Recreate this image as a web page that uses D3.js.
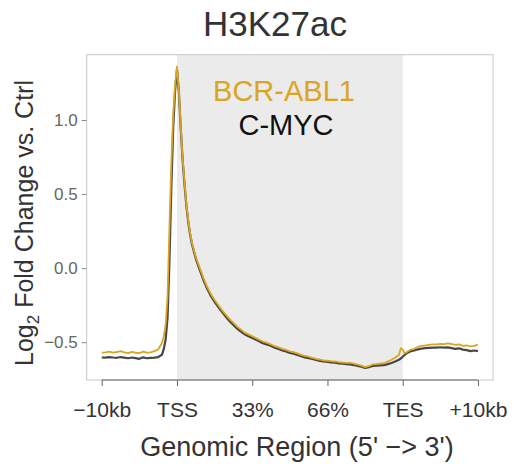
<!DOCTYPE html>
<html>
<head>
<meta charset="utf-8">
<script src="https://cdn.jsdelivr.net/npm/d3@7"></script>
<style>
  body { margin: 0; background: #fff; }
  text { font-family: "Liberation Sans", Arial, sans-serif; }
</style>
</head>
<body>
<script>
const w = 514;
const h = 464;
const margin = { top: 54.7, right: 21, bottom: 84, left: 86.7 };

// bin positions: 0 = -10kb, 1 = TSS, 4 = TES, 5 = +10kb
const binPos = [0, 0.05, 0.1, 0.15, 0.2, 0.25, 0.3, 0.35, 0.4, 0.45, 0.5, 0.55, 0.6, 0.65, 0.7, 0.75, 0.8,
  0.825, 0.85, 0.875, 0.9, 0.925, 0.95, 0.975, 1, 1.025, 1.05, 1.075, 1.1, 1.125, 1.15, 1.175, 1.2,
  1.25, 1.3, 1.35, 1.4, 1.45, 1.5, 1.55, 1.6, 1.65, 1.7, 1.75, 1.8, 1.85, 1.9, 1.95, 2, 2.05, 2.1, 2.15,
  2.2, 2.25, 2.3, 2.35, 2.4, 2.45, 2.5, 2.55, 2.6, 2.65, 2.7, 2.75, 2.8, 2.85, 2.9, 2.95, 3, 3.05, 3.1,
  3.15, 3.2, 3.25, 3.3, 3.35, 3.4, 3.45, 3.5, 3.55, 3.6, 3.65, 3.7, 3.75, 3.8, 3.85, 3.9, 3.95,
  3.975, 4, 4.025, 4.05, 4.1, 4.15, 4.2, 4.25, 4.3, 4.35, 4.4, 4.45, 4.5, 4.55, 4.6, 4.65, 4.7, 4.75,
  4.8, 4.85, 4.9, 4.95, 5];

const bcrAbl1 = [-0.570, -0.568, -0.563, -0.570, -0.566, -0.560, -0.568, -0.573, -0.565, -0.571, -0.573, -0.564, -0.570, -0.568, -0.560, -0.548, -0.505,
  -0.46, -0.38, -0.18, 0.28, 0.72, 1.04, 1.24, 1.36, 1.20, 0.95, 0.74, 0.58, 0.43, 0.32, 0.235, 0.17,
  0.075, 0.005, -0.065, -0.125, -0.175, -0.215, -0.25, -0.285, -0.315, -0.345, -0.37, -0.395, -0.415, -0.435, -0.447, -0.46, -0.472, -0.485, -0.497,
  -0.505, -0.515, -0.527, -0.535, -0.545, -0.552, -0.562, -0.567, -0.575, -0.585, -0.592, -0.598, -0.605, -0.612, -0.618, -0.622, -0.625, -0.628, -0.630,
  -0.635, -0.637, -0.640, -0.640, -0.645, -0.652, -0.658, -0.668, -0.662, -0.650, -0.648, -0.645, -0.642, -0.630, -0.618, -0.605, -0.585,
  -0.54, -0.55, -0.575, -0.568, -0.552, -0.545, -0.532, -0.525, -0.522, -0.518, -0.515, -0.514, -0.512, -0.513, -0.508, -0.512, -0.518, -0.515,
  -0.525, -0.522, -0.528, -0.524, -0.516];

const cMyc = [-0.603, -0.604, -0.600, -0.603, -0.605, -0.600, -0.604, -0.608, -0.603, -0.607, -0.612, -0.602, -0.608, -0.606, -0.604, -0.600, -0.585,
  -0.545, -0.48, -0.33, 0.05, 0.55, 0.95, 1.20, 1.34, 1.19, 0.94, 0.73, 0.565, 0.42, 0.31, 0.225, 0.16,
  0.065, -0.008, -0.078, -0.138, -0.188, -0.228, -0.262, -0.297, -0.328, -0.358, -0.383, -0.408, -0.428, -0.447, -0.46, -0.472, -0.483, -0.496, -0.508,
  -0.516, -0.526, -0.537, -0.546, -0.555, -0.562, -0.572, -0.578, -0.586, -0.594, -0.602, -0.607, -0.613, -0.620, -0.626, -0.630, -0.633, -0.636, -0.638,
  -0.643, -0.645, -0.648, -0.650, -0.654, -0.660, -0.665, -0.673, -0.668, -0.660, -0.658, -0.656, -0.655, -0.648, -0.640, -0.630, -0.618,
  -0.610, -0.598, -0.586, -0.575, -0.562, -0.556, -0.548, -0.543, -0.540, -0.538, -0.537, -0.536, -0.534, -0.537, -0.535, -0.540, -0.545, -0.541,
  -0.550, -0.553, -0.560, -0.556, -0.560];

const xTickPos = [0, 1, 2, 3, 4, 5];
const xTickLabels = ["\u221210kb", "TSS", "33%", "66%", "TES", "+10kb"];
const yTicks = [-0.5, 0.0, 0.5, 1.0];

const gold = "#DAA520";
const dark = "#333333";

const svg = d3.select("body").append("svg")
  .attr("width", w)
  .attr("height", h);

// R-style 4% padding around data range
const xScale = d3.scaleLinear()
  .domain([-0.2, 5.2])
  .range([margin.left, w - margin.right]);

const yScale = d3.scaleLinear()
  .domain([-0.755, 1.441])
  .range([h - margin.bottom, margin.top]);

const x0 = margin.left, x1 = w - margin.right;
const y0 = margin.top, y1 = h - margin.bottom;

// gene body shading
svg.append("rect")
  .attr("x", xScale(1))
  .attr("y", y0)
  .attr("width", xScale(4) - xScale(1))
  .attr("height", y1 - y0)
  .attr("fill", "#ebebeb");

// plot box
svg.append("rect")
  .attr("x", x0)
  .attr("y", y0)
  .attr("width", x1 - x0)
  .attr("height", y1 - y0)
  .attr("fill", "none")
  .attr("stroke", "#c8c8c8")
  .attr("stroke-width", 1);

const line = d3.line()
  .x((d, i) => xScale(binPos[i]))
  .y(d => yScale(d));

svg.append("path")
  .datum(cMyc)
  .attr("d", line)
  .attr("fill", "none")
  .attr("stroke", dark)
  .attr("stroke-opacity", 0.9)
  .attr("stroke-width", 2.2)
  .attr("stroke-linejoin", "round");

svg.append("path")
  .datum(bcrAbl1)
  .attr("d", line)
  .attr("fill", "none")
  .attr("stroke", gold)
  .attr("stroke-width", 1.8)
  .attr("stroke-linejoin", "round");

// x axis
const xAxis = d3.axisBottom(xScale)
  .tickValues(xTickPos)
  .tickFormat((d, i) => xTickLabels[i])
  .tickSize(6)
  .tickSizeOuter(0);

const gx = svg.append("g")
  .attr("transform", `translate(0,${y1})`)
  .call(xAxis);
gx.select(".domain")
  .attr("d", `M${xScale(0)},0H${xScale(5)}`)
  .attr("stroke", "#666");
gx.selectAll(".tick line").attr("stroke", "#666");
gx.selectAll(".tick text")
  .attr("y", 0)
  .attr("dy", 0)
  .attr("transform", "translate(0,37)")
  .attr("font-size", 21)
  .attr("font-family", "Liberation Sans, Arial, sans-serif")
  .attr("fill", "#333");

// y axis
const yAxis = d3.axisLeft(yScale)
  .tickValues(yTicks)
  .tickFormat(d3.format(".1f"))
  .tickSize(5)
  .tickSizeOuter(0);

const gy = svg.append("g")
  .attr("transform", `translate(${x0},0)`)
  .call(yAxis);
gy.select(".domain").remove();
gy.selectAll(".tick line").attr("stroke", "#888");
gy.selectAll(".tick text")
  .attr("x", -9)
  .attr("font-size", 17)
  .attr("font-family", "Liberation Sans, Arial, sans-serif")
  .attr("fill", "#666");

// title
svg.append("text")
  .attr("x", 275)
  .attr("y", 36)
  .attr("text-anchor", "middle")
  .attr("font-size", 35)
  .attr("fill", "#333")
  .text("H3K27ac");

// legend labels
svg.append("text")
  .attr("x", 284)
  .attr("y", 101)
  .attr("text-anchor", "middle")
  .attr("font-size", 29)
  .attr("fill", gold)
  .text("BCR-ABL1");

svg.append("text")
  .attr("x", 286)
  .attr("y", 135)
  .attr("text-anchor", "middle")
  .attr("font-size", 29)
  .attr("fill", "#111")
  .text("C-MYC");

// x axis title
svg.append("text")
  .attr("x", 297)
  .attr("y", 456)
  .attr("text-anchor", "middle")
  .attr("font-size", 27)
  .attr("fill", "#333")
  .text("Genomic Region (5' \u2212> 3')");

// y axis title with subscript
const yl = svg.append("text")
  .attr("transform", "translate(33,223) rotate(-90)")
  .attr("text-anchor", "middle")
  .attr("font-size", 25)
  .attr("fill", "#333");
yl.append("tspan").text("Log");
yl.append("tspan").attr("font-size", 17).attr("dy", 6).text("2");
yl.append("tspan").attr("dy", -6).text(" Fold Change vs. Ctrl");
</script>
</body>
</html>
